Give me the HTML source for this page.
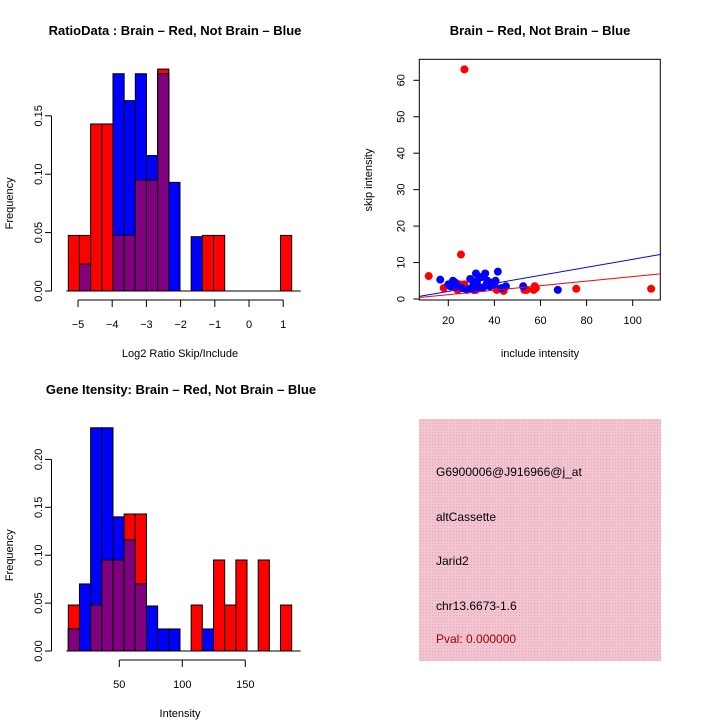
<!DOCTYPE html>
<html><head><meta charset="utf-8">
<style>
html,body{margin:0;padding:0;background:#fff;}
svg{display:block;font-family:"Liberation Sans",sans-serif;}
</style></head>
<body>
<svg id="s" width="720" height="720" viewBox="0 0 720 720">
<defs>
<pattern id="hatch" width="3" height="3" patternUnits="userSpaceOnUse">
<rect width="3" height="3" fill="#f2c4cf"/><rect width="1" height="1" fill="#e4a8b8"/>
</pattern>
</defs>
<text x="175" y="35" text-anchor="middle" font-size="13" font-weight="bold">RatioData : Brain – Red, Not Brain – Blue</text>
<text x="540" y="35" text-anchor="middle" font-size="13" font-weight="bold">Brain – Red, Not Brain – Blue</text>
<text x="181" y="394" text-anchor="middle" font-size="13" font-weight="bold">Gene Itensity: Brain – Red, Not Brain – Blue</text>
<g id="g1"></g>
<g id="g2"></g>
<g id="g3"></g>
<g>
<rect x="419" y="419" width="242" height="242" fill="url(#hatch)"/>
<text x="436" y="476" font-size="12">G6900006@J916966@j_at</text>
<text x="436" y="521" font-size="12">altCassette</text>
<text x="436" y="565" font-size="12">Jarid2</text>
<text x="436" y="610" font-size="12">chr13.6673-1.6</text>
<text x="436" y="643" font-size="12" fill="#a00000">Pval: 0.000000</text>
</g>
</svg>
<script>
// Ratio histogram data
const ratioRed  = [0.0476,0.0476,0.143,0.143,0.0476,0.0476,0.095,0.095,0.19,0,0,0,0.0476,0.0476,0,0,0,0,0,0.0476];
const ratioBlue = [0,0.023,0,0,0.186,0.163,0.186,0.116,0.186,0.093,0,0.0465,0,0,0,0,0,0,0,0];
const ratioXTicks = [-5,-4,-3,-2,-1,0,1];
const ratioYTicks = [0,0.05,0.10,0.15];
// Intensity histogram data
const intRed  = [0.048,0,0.048,0.095,0.095,0.143,0.143,0,0,0,0,0.048,0,0.095,0.048,0.095,0,0.095,0,0.048];
const intBlue = [0.023,0.07,0.233,0.233,0.14,0.116,0.07,0.047,0.023,0.023,0,0,0.023,0,0,0,0,0,0,0];
const intXTicks = [50,100,150];
const intYTicks = [0,0.05,0.10,0.15,0.20];
// Scatter data
const redX = [11.5,27,25.5,18,22,25,27,24,35,41,44,53,54,57,57.5,58,75.5,108,30,32];
const redY = [6.3,63,12.2,3,3.5,4,4,2.5,6,2.5,2.2,2.5,2.5,2.5,3.5,3,2.8,2.8,3,2.5];
const blueX = [16.5,20,21,22,23,24,26,28,29.5,30,31,32,32.5,33,34,35,36,36.5,37,38,39,40,40.5,41.5,43,45,52.5,67.5,31,34];
const blueY = [5.3,4,3.5,5,4.5,3.5,3,2.5,5.5,3,4,7,5,3.5,6,3,7,4,5,3.5,4.5,4,5,7.5,3,3.5,3.5,2.5,2.5,3];
const sxTicks = [20,40,60,80,100];
const syTicks = [0,10,20,30,40,50,60];
const blueFit = [-0.11,0.11];
const redFit = [-0.06,0.062];

const NS="http://www.w3.org/2000/svg";
function el(p,tag,a){const e=document.createElementNS(NS,tag);for(const k in a)e.setAttribute(k,a[k]);p.appendChild(e);return e;}

function hist(g,red,blue,x0,bw,y0,yPer,xs,xt,yt,xlab,axY,labelY){
  const ys=v=>y0-v*yPer;
  for(let i=0;i<red.length;i++){
    const x=x0+i*bw,r=red[i],b=blue[i],mn=Math.min(r,b);
    if(r>0){const e=el(g,'rect',{x:x,y:ys(r),width:bw,height:y0-ys(r),fill:'#ff0000',stroke:'#000','stroke-width':1});
      }
    if(b>0){const e=el(g,'rect',{x:x,y:ys(b),width:bw,height:y0-ys(b),fill:'#0000ff',stroke:'#000','stroke-width':1});
      }
    if(mn>0){const e=el(g,'rect',{x:x,y:ys(mn),width:bw,height:y0-ys(mn),fill:'#800080',stroke:'#000','stroke-width':1});
      }
  }
  el(g,'line',{x1:x0-2,x2:x0+red.length*bw+9,y1:y0,y2:y0,stroke:'#000'});
  el(g,'line',{x1:51.5,x2:51.5,y1:ys(yt[0]),y2:ys(yt[yt.length-1]),stroke:'#000'});
  yt.forEach(v=>{el(g,'line',{x1:45,x2:51.5,y1:ys(v),y2:ys(v),stroke:'#000'});
    const t=el(g,'text',{x:0,y:0,'font-size':11,'text-anchor':'middle',transform:`translate(42,${ys(v)}) rotate(-90)`});t.textContent=v.toFixed(2);
    });
  el(g,'line',{x1:xs(xt[0]),x2:xs(xt[xt.length-1]),y1:axY,y2:axY,stroke:'#000'});
  xt.forEach(v=>{el(g,'line',{x1:xs(v),x2:xs(v),y1:axY,y2:axY+7,stroke:'#000'});
    const t=el(g,'text',{x:xs(v),y:axY+28,'font-size':11,'text-anchor':'middle'});t.textContent=String(v).replace('-','−');
    });
  const xl=el(g,'text',{x:180,y:labelY,'font-size':11,'text-anchor':'middle'});xl.textContent=xlab;
  
  const yl=el(g,'text',{x:0,y:0,'font-size':11,'text-anchor':'middle',transform:`translate(13,${(y0+ys(yt[yt.length-1]))/2}) rotate(-90)`});yl.textContent='Frequency';
  
}
hist(document.getElementById('g1'),ratioRed,ratioBlue,68.3,11.17,291,58.4/0.05,v=>78+(v+5)*34.2,ratioXTicks,ratioYTicks,'Log2 Ratio Skip/Include',300,357);
hist(document.getElementById('g3'),intRed,intBlue,68.3,11.17,651,47.9/0.05,v=>119.3+(v-50)*1.26,intXTicks,intYTicks,'Intensity',660,717);

(function(){
  const g=document.getElementById('g2');
  const L=419.3,R=660.3,T=59.3,B=300;
  const sx=v=>448.3+(v-20)*2.305, sy=v=>299-v*3.645;
  el(g,'rect',{x:L,y:T,width:R-L,height:B-T,fill:'none',stroke:'#000'});
  sxTicks.forEach(v=>{el(g,'line',{x1:sx(v),x2:sx(v),y1:B,y2:B+6,stroke:'#000'});
    const t=el(g,'text',{x:sx(v),y:B+24,'font-size':11,'text-anchor':'middle'});t.textContent=v;
    });
  syTicks.forEach(v=>{el(g,'line',{x1:L-6,x2:L,y1:sy(v),y2:sy(v),stroke:'#000'});
    const t=el(g,'text',{x:0,y:0,'font-size':11,'text-anchor':'middle',transform:`translate(${L-15},${sy(v)}) rotate(-90)`});t.textContent=v;
    });
  const xl=el(g,'text',{x:540,y:357,'font-size':11,'text-anchor':'middle'});xl.textContent='include intensity';
  
  const yl=el(g,'text',{x:0,y:0,'font-size':11,'text-anchor':'middle',transform:`translate(372,180) rotate(-90)`});yl.textContent='skip intensity';
  
  const xmin=(L-448.3)/2.305+20, xmax=(R-448.3)/2.305+20;
  const clip=el(g,'clipPath',{id:'sc'});el(clip,'rect',{x:L,y:T,width:R-L,height:B-T});
  const pts=el(g,'g',{'clip-path':'url(#sc)'});
  for(let i=0;i<redX.length;i++){const c=el(pts,'circle',{cx:sx(redX[i]),cy:sy(redY[i]),r:4,fill:'#ff0000'});
    }
  for(let i=0;i<blueX.length;i++){const c=el(pts,'circle',{cx:sx(blueX[i]),cy:sy(blueY[i]),r:4,fill:'#0000ff'});
    }
  const bl=el(pts,'line',{x1:sx(xmin),x2:sx(xmax),y1:sy(blueFit[0]+blueFit[1]*xmin),y2:sy(blueFit[0]+blueFit[1]*xmax),stroke:'#0000ff'});
  
  const rl=el(pts,'line',{x1:sx(xmin),x2:sx(xmax),y1:sy(redFit[0]+redFit[1]*xmin),y2:sy(redFit[0]+redFit[1]*xmax),stroke:'#ff0000'});
  
})();
</script>
</body></html>
